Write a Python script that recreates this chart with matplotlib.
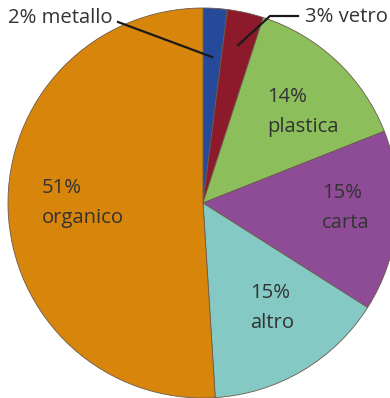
import numpy as np
import matplotlib.pyplot as plt

plt.rcParams['font.family'] = ['Open Sans', 'DejaVu Sans']

# waste composition, clockwise from 12 o'clock
categorie = ['metallo', 'vetro', 'plastica', 'carta', 'altro', 'organico']
percentuali = [2, 3, 14, 15, 15, 51]
colori = ['#264a99', '#8c1a2a', '#8cbf5b', '#8e4c97', '#84c9c3', '#d8860b']

W, H = 390, 398
fig = plt.figure(figsize=(W / 100, H / 100), dpi=100)
ax = fig.add_axes([0, 0, 1, 1])

cx, cy, R = 203, H - 203, 195
wedges, _ = ax.pie(percentuali, colors=colori, startangle=90, counterclock=False,
                   center=(cx, cy), radius=R,
                   wedgeprops=dict(edgecolor='#6b5a4a', linewidth=0.6))
ax.set_xlim(0, W)
ax.set_ylim(0, H)
ax.set_aspect('equal')
ax.axis('off')

txt = '#333333'
fs = 14.6


def punto(w, frac):
    a = np.deg2rad((w.theta1 + w.theta2) / 2)
    return cx + frac * R * np.cos(a), cy + frac * R * np.sin(a)


# small slices: outside labels with leader lines
x1, y1 = punto(wedges[0], 0.75)
ax.plot([118, x1], [H - 22, y1], color='#1a1a1a', lw=1.6)
ax.text(8, H - 18, f'{percentuali[0]}% {categorie[0]}', fontsize=fs, color=txt,
        ha='left', va='center')

x2, y2 = punto(wedges[1], 0.83)
ax.plot([298, 270, x2], [H - 16, H - 16, y2], color='#1a1a1a', lw=1.6)
ax.text(305, H - 17, f'{percentuali[1]}% {categorie[1]}', fontsize=fs, color=txt,
        ha='left', va='center')

# big slices: two-line labels inside
posizioni = {2: (267, 97), 3: (322, 193), 4: (250, 293), 5: (42, 188)}
for i, (x, y) in posizioni.items():
    ax.text(x, H - y, f'{percentuali[i]}%', fontsize=fs, color=txt,
            ha='left', va='center')
    ax.text(x, H - y - 30, categorie[i], fontsize=fs, color=txt,
            ha='left', va='center')

fig.savefig('out.png', dpi=100)
